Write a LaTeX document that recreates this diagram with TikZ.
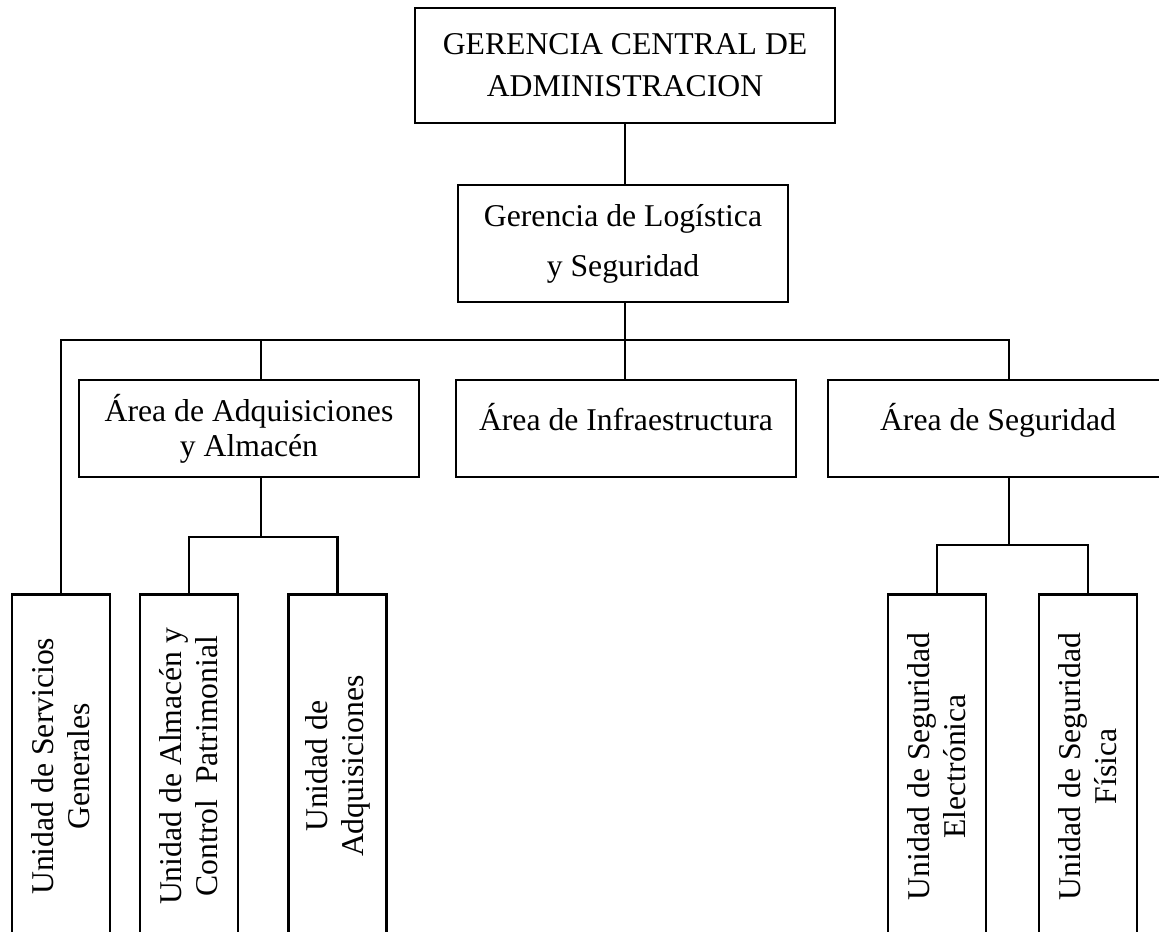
\documentclass[tikz,border=0pt]{standalone}
\usepackage{fontspec}
\setmainfont{Liberation Serif}
\usetikzlibrary{positioning}

\tikzset{
  box/.style={draw, line width=1pt, inner sep=0pt, align=center, font=\fontsize{12}{14}\selectfont},
  areabox/.style={box, minimum width=4.522cm, minimum height=1.29cm},
  unitbox/.style={box, rotate=90, anchor=east, minimum width=4.575cm, minimum height=1.303cm, font=\fontsize{12}{13.6}\selectfont},
  link/.style={line width=1pt},
}

\begin{document}
\begin{tikzpicture}[x=0.0133cm, y=-0.0133cm]
  \clip (0,0) rectangle (1159,931);
  % gerencias
  \node[box, minimum width=5.586cm, minimum height=1.53cm, font=\fontsize{12}{16}\selectfont] (gcad) at (625,65.5) {GERENCIA CENTRAL DE\\ADMINISTRACION};
  \node[box, minimum width=4.389cm, minimum height=1.556cm, font=\fontsize{12}{19}\selectfont] (glog) at (623,243.5) {Gerencia de Logística\\y Seguridad};
  % areas
  \node[areabox, font=\fontsize{12}{13.2}\selectfont] (aadq) at (249,428.5) {Área de Adquisiciones\\y Almacén};
  \node[areabox, text height=10pt, text depth=8.2pt] (ainf) at (626,428.5) {Área de Infraestructura};
  \node[areabox, text height=10pt, text depth=8.2pt] (aseg) at (998,428.5) {Área de Seguridad};
  % unidades
  \node[unitbox] (usg) at (61,593) {Unidad de Servicios\\Generales};
  \node[unitbox] (ualm) at (189,593) {Unidad de Almacén y\\Control\ \ Patrimonial};
  \node[unitbox] (uadq) at (337.5,593) {Unidad de\\Adquisiciones};
  \node[unitbox] (uele) at (937,593) {Unidad de Seguridad\\Electrónica};
  \node[unitbox] (ufis) at (1088,593) {Unidad de Seguridad\\Física};

  % connectors
  \coordinate (bus) at (625,340);
  \coordinate (sbusadq) at (261,537);
  \coordinate (sbusseg) at (1009,545);
  \draw[link] (gcad.south) -- (gcad.south |- glog.north);
  \draw[link] (glog.south -| bus) -- (bus);
  \draw[link] (usg.east) -- (usg.east |- bus) -- (bus -| sbusseg) -- (aseg.north -| sbusseg);
  \draw[link] (aadq.north -| sbusadq) -- (sbusadq |- bus);
  \draw[link] (ainf.north -| bus) -- (bus);
  % adquisiciones y almacen
  \draw[link] (aadq.south -| sbusadq) -- (sbusadq);
  \draw[link] (ualm.east) -- (ualm.east |- sbusadq) -- (uadq.east |- sbusadq) -- (uadq.east);
  % seguridad
  \draw[link] (aseg.south -| sbusseg) -- (sbusseg);
  \draw[link] (uele.east) -- (uele.east |- sbusseg) -- (ufis.east |- sbusseg) -- (ufis.east);
\end{tikzpicture}
\end{document}
